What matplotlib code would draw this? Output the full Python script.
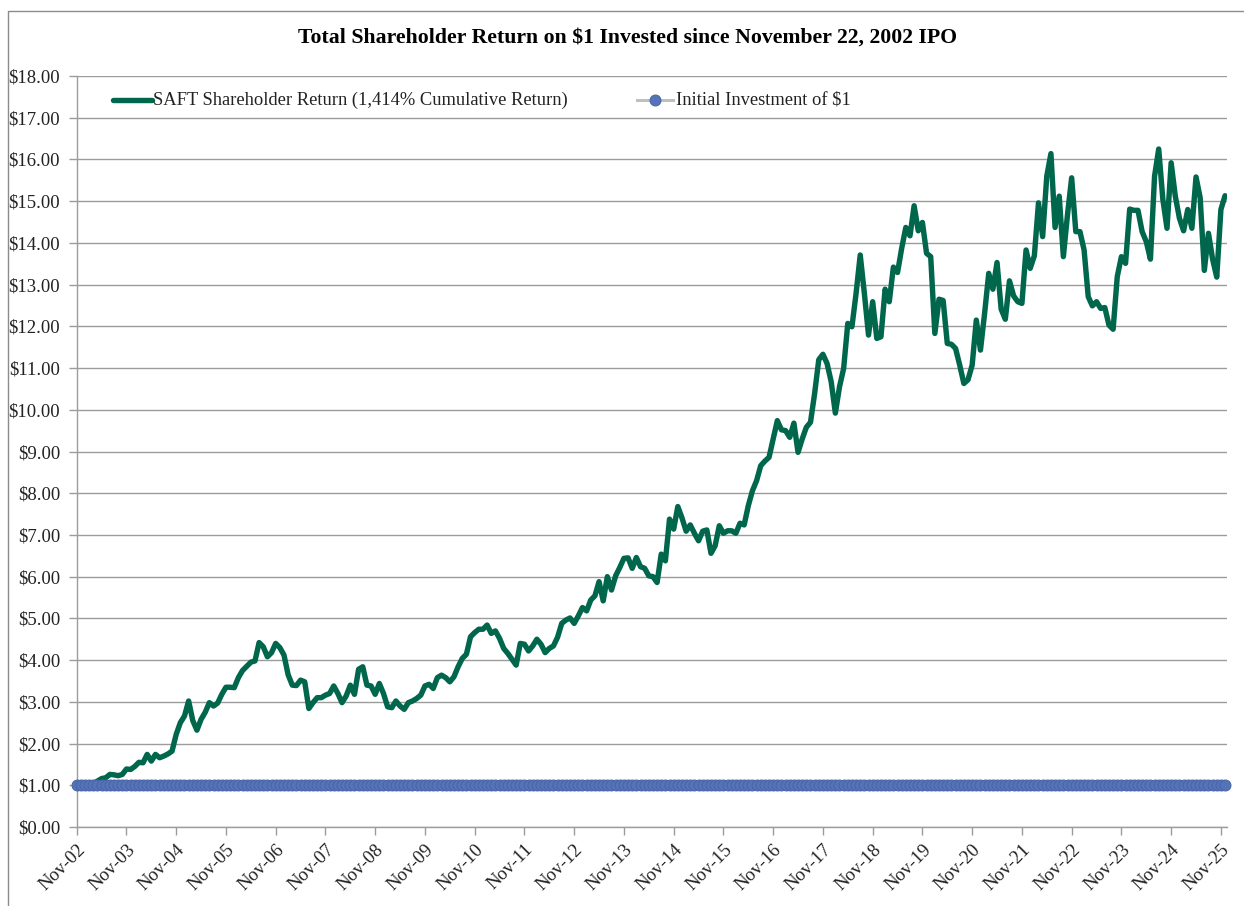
import matplotlib
matplotlib.use("Agg")
import matplotlib.pyplot as plt
from matplotlib.lines import Line2D
import numpy as np

# ---- data (monthly, Nov-2002 .. Dec-2025) ----
saft_values = [
    1.00, 1.06, 1.00, 1.00, 1.04, 1.10, 1.16, 1.18, 1.26, 1.25, 1.23, 1.26,
    1.39, 1.38, 1.45, 1.55, 1.54, 1.74, 1.58, 1.74, 1.66, 1.70, 1.75, 1.82,
    2.22, 2.50, 2.66, 3.02, 2.55, 2.32, 2.58, 2.75, 2.98, 2.90, 2.97, 3.18,
    3.35, 3.35, 3.34, 3.58, 3.75, 3.85, 3.95, 3.98, 4.42, 4.32, 4.08, 4.18,
    4.40, 4.30, 4.12, 3.65, 3.40, 3.39, 3.52, 3.48, 2.84, 2.98, 3.10, 3.10,
    3.16, 3.20, 3.38, 3.20, 2.98, 3.14, 3.40, 3.18, 3.78, 3.84, 3.40, 3.38,
    3.18, 3.44, 3.20, 2.88, 2.86, 3.02, 2.90, 2.82, 2.98, 3.02, 3.08, 3.16,
    3.38, 3.42, 3.32, 3.58, 3.64, 3.58, 3.48, 3.60, 3.84, 4.04, 4.14, 4.56,
    4.66, 4.74, 4.74, 4.84, 4.64, 4.70, 4.52, 4.28, 4.16, 4.02, 3.88, 4.40,
    4.38, 4.22, 4.34, 4.50, 4.38, 4.18, 4.28, 4.34, 4.55, 4.88, 4.96, 5.01,
    4.88, 5.06, 5.26, 5.18, 5.44, 5.54, 5.88, 5.42, 6.00, 5.68, 6.02, 6.22,
    6.44, 6.45, 6.20, 6.46, 6.24, 6.20, 6.02, 6.00, 5.86, 6.54, 6.38, 7.38,
    7.14, 7.68, 7.41, 7.09, 7.24, 7.04, 6.86, 7.09, 7.12, 6.56, 6.74, 7.22,
    7.04, 7.10, 7.10, 7.04, 7.28, 7.24, 7.70, 8.06, 8.30, 8.66, 8.77, 8.86,
    9.30, 9.74, 9.52, 9.50, 9.34, 9.68, 8.98, 9.30, 9.58, 9.70, 10.39, 11.20,
    11.33, 11.11, 10.67, 9.92, 10.55, 10.99, 12.07, 11.99, 12.79, 13.71, 12.79, 11.79,
    12.59, 11.71, 11.75, 12.89, 12.59, 13.42, 13.29, 13.87, 14.37, 14.17, 14.89, 14.29,
    14.49, 13.75, 13.67, 11.83, 12.65, 12.62, 11.59, 11.57, 11.47, 11.07, 10.63, 10.72,
    11.07, 12.15, 11.43, 12.31, 13.27, 12.89, 13.53, 12.41, 12.17, 13.09, 12.73, 12.59,
    12.55, 13.83, 13.39, 13.69, 14.96, 14.15, 15.60, 16.14, 14.37, 15.12, 13.67, 14.68,
    15.56, 14.27, 14.27, 13.83, 12.71, 12.49, 12.59, 12.43, 12.45, 12.03, 11.93, 13.19,
    13.67, 13.51, 14.81, 14.78, 14.78, 14.27, 14.03, 13.61, 15.60, 16.25, 15.04, 14.35,
    15.92, 15.12, 14.59, 14.29, 14.80, 14.35, 15.58, 15.08, 13.34, 14.23, 13.61, 13.18,
    14.80, 15.13,
]
initial_values = [1.0] * len(saft_values)
month_index = list(range(len(saft_values)))

tick_labels = ["Nov-%02d" % (y % 100) for y in range(2002, 2026)]
tick_positions = [12 * i for i in range(len(tick_labels))]
y_ticks = list(range(0, 19))
y_tick_labels = ["$%d.00" % v for v in y_ticks]

series_names = ["SAFT Shareholder Return (1,414% Cumulative Return)",
                "Initial Investment of $1"]
title = "Total Shareholder Return on $1 Invested since November 22, 2002 IPO"

# ---- style ----
W, H = 1244, 906
plt.rcParams['font.family'] = ['Liberation Serif', 'DejaVu Serif']
GREEN = "#00674D"
BLUE = "#5573B8"
BLUE_EDGE = "#4A66A8"
GRID = "#9C9C9C"

fig = plt.figure(figsize=(W / 100, H / 100), dpi=100)

def fx(x):
    return x / W

def fy(y):
    return 1 - y / H

ax_left, ax_right = 76.7, 1226.7
ax_top, ax_bottom = 76.0, 827.0
ax = fig.add_axes([fx(ax_left), fy(ax_bottom), fx(ax_right) - fx(ax_left),
                   fy(ax_top) - fy(ax_bottom)])

ax.plot(month_index, saft_values, color=GREEN, lw=3.9, solid_joinstyle='round',
        solid_capstyle='round', zorder=3)
ax.plot(month_index, initial_values, color="#BFBFBF", lw=2.2, marker='o',
        markersize=7.8, markerfacecolor=BLUE, markeredgecolor=BLUE_EDGE,
        markeredgewidth=0.8, zorder=4, clip_on=False)

ax.set_xlim(0, 277.4)
ax.set_ylim(0, 18)
ax.set_yticks(y_ticks)
ax.set_yticklabels(y_tick_labels, fontsize=13.5, color="#222222")
ax.set_xticks(tick_positions)
ax.set_xticklabels(tick_labels, fontsize=13.5, rotation=45, ha='right', va='top',
                   rotation_mode='anchor', color="#222222")
ax.tick_params(axis='y', length=6, width=1, color=GRID, pad=6, direction='out')
ax.tick_params(axis='x', length=6, width=1, color=GRID, pad=4, direction='out')
ax.grid(axis='y', color=GRID, lw=1.0)
ax.set_axisbelow(True)
for s in ['top', 'right']:
    ax.spines[s].set_visible(False)
for s in ['left', 'bottom']:
    ax.spines[s].set_color(GRID)
    ax.spines[s].set_linewidth(1.0)

# title
fig.text(fx(628), fy(38), title, ha='center', va='center', fontsize=15.7,
         fontweight='bold', color='black')

# legend (manual placement)
ly = fy(100)
fig.add_artist(Line2D([fx(113), fx(152)], [ly, ly], color=GREEN, lw=3.9,
                      solid_capstyle='round', transform=fig.transFigure))
fig.text(fx(153), ly, series_names[0], ha='left', va='center', fontsize=13.3,
         color='#222222')
fig.add_artist(Line2D([fx(637), fx(673)], [ly, ly], color="#BFBFBF", lw=2.2,
                      transform=fig.transFigure))
fig.add_artist(Line2D([fx(655)], [ly], color=BLUE, marker='o', markersize=7.8,
                      markerfacecolor=BLUE, markeredgecolor=BLUE_EDGE,
                      markeredgewidth=0.8, transform=fig.transFigure))
fig.text(fx(676), ly, series_names[1], ha='left', va='center', fontsize=13.3,
         color='#222222')

# chart-area border (top & left visible)
fig.add_artist(Line2D([fx(8), fx(8), fx(W + 5)], [fy(H + 5), fy(11), fy(11)],
                      color="#8C8C8C", lw=1.0, transform=fig.transFigure))

fig.savefig("out.png", dpi=100, facecolor='white')
